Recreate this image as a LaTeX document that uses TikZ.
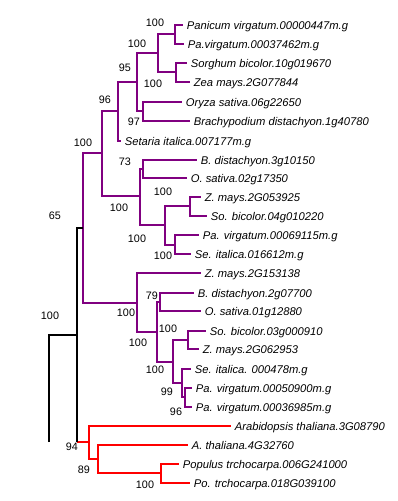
\documentclass[tikz,border=0pt]{standalone}
\usepackage{fontspec}
\setmainfont{Liberation Sans}
\definecolor{cladepurple}{RGB}{128,0,128}
\definecolor{dicotred}{RGB}{255,0,0}

\begin{document}
\begin{tikzpicture}[x=1pt, y=-1pt, line width=1.7pt,
    every node/.style={font=\fontsize{10.8}{13}\selectfont},
    tip/.style={anchor=west, inner xsep=3pt, inner ysep=0pt, text height=8pt, text depth=0pt,
      font=\fontsize{11.2}{13}\selectfont\itshape},
    boot/.style={inner sep=0pt},
    mono/.style={cladepurple}, dicot/.style={dicotred}, stem/.style={black}]
  \useasboundingbox (0,0) rectangle (398,501);

  \foreach \n/\x/\y/\name in {
      1/183/25/Panicum virgatum.00000447m.g,
      2/184/44/Pa.virgatum.00037462m.g,
      3/187/63/Sorghum bicolor.10g019670,
      4/190/82/Zea mays.2G077844,
      5/182/102/Oryza sativa.06g22650,
      6/190/121/Brachypodium distachyon.1g40780,
      7/121/141/Setaria italica.007177m.g,
      8/197/160/B. distachyon.3g10150,
      9/187/178/O. sativa.02g17350,
      10/201/197/Z. mays.2G053925,
      11/207/216/So. bicolor.04g010220,
      12/199/235/Pa. virgatum.00069115m.g,
      13/191/254/Se. italica.016612m.g,
      14/201/273/Z. mays.2G153138,
      15/194/293/B. distachyon.2g07700,
      16/201/311/O. sativa.01g12880,
      17/206/331/So. bicolor.03g000910,
      18/199/349/Z. mays.2G062953,
      19/191/369/Se. italica. 000478m.g,
      20/192/388/Pa. virgatum.00050900m.g,
      21/192/407/Pa. virgatum.00036985m.g,
      22/231/426/Arabidopsis thaliana.3G08790,
      23/188/445/A. thaliana.4G32760,
      24/179/464/Populus trchocarpa.006G241000,
      25/190/483/Po. trchocarpa.018G039100} {
    \node[tip] (t\n) at (\x,\y) {\name};
  }

  \foreach \n/\x/\y in {0/83/228, 1/102/153, 2/137/303, 3/118/111, 4/140/196,
      5/137/82, 6/158/53, 7/143/111, 8/175/34, 9/176/72, 10/143/169,
      11/165/225, 12/190/206, 13/175/245, 14/157/332, 15/160/302,
      16/173/362, 17/188/340, 18/182/383, 19/185/397}
    \coordinate (p\n) at (\x,\y);
  \foreach \n/\x/\y in {0/89/442, 1/98/459, 2/161/473}
    \coordinate (q\n) at (\x,\y);
  \coordinate (K) at (77,335);
  \coordinate (R) at (49,335);
  \coordinate (Rend) at (49,442);

  \foreach \a/\b in {p0/p1, p0/p2, p1/p3, p1/p4, p3/p5, p3/t7, p5/p6, p5/p7,
      p6/p8, p6/p9, p8/t1, p8/t2, p9/t3, p9/t4, p7/t5, p7/t6,
      p4/p10, p4/p11, p10/t8, p10/t9, p11/p12, p11/p13, p12/t10, p12/t11,
      p13/t12, p13/t13, p2/t14, p2/p14, p14/p15, p14/p16, p15/t15, p15/t16,
      p16/p17, p16/p18, p17/t17, p17/t18, p18/t19, p18/p19, p19/t20, p19/t21}
    \draw[mono] (\a) |- (\b);

  \foreach \a/\b in {q0/t22, q0/q1, q1/t23, q1/q2, q2/t24, q2/t25}
    \draw[dicot] (\a) |- (\b);
  \draw[dicot] (K |- q0) -- (q0);

  \draw[stem] (Rend) -- (R) -- (K);
  \draw[stem] (K) |- (p0);
  \draw[stem] (K) -- (K |- q0);

  \foreach \n/\x/\y/\v in {
      8/155/23/100, 6/137/44/100, 5/125/68/95, 9/153/84/100, 3/105/100/96,
      7/134/122/97, 1/83/143/100, 10/125/162/73, 12/163/192/100,
      4/119/208/100, 0/55/216/65, 11/137/239/100, 13/163/256/100,
      15/152/296/79, 2/126/313/100, 17/168/329/100, 14/138/343/100,
      16/155/370/100, 18/167/392/99, 19/176/412/96}
    \node[boot] (bp\n) at (\x,\y) {\v};
  \foreach \n/\x/\y/\v in {0/72/447/94, 1/84/470/89, 2/145/485/100}
    \node[boot] (bq\n) at (\x,\y) {\v};
  \node[boot] (bK) at (50,316) {100};
\end{tikzpicture}
\end{document}
